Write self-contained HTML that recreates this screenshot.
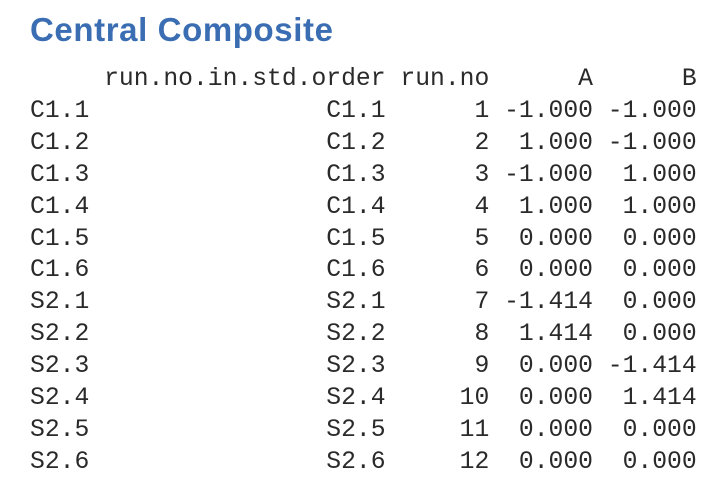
<!DOCTYPE html>
<html>
<head>
<meta charset="utf-8">
<style>
  html, body { margin: 0; padding: 0; background: #ffffff; }
  body { width: 727px; height: 496px; overflow: hidden; position: relative; }
  .title {
    position: absolute; left: 30px; top: 11px; margin: 0;
    font-family: "Liberation Sans", sans-serif; font-weight: bold;
    font-size: 33px; letter-spacing: 0.6px; color: #3b6db3;
  }
  pre {
    position: absolute; left: 30px; top: 64px; margin: 0;
    font-family: "Liberation Mono", monospace; font-size: 24.7px;
    line-height: 31.9px; color: #2a2a2a;
  }
</style>
</head>
<body>
<h1 class="title">Central Composite</h1>
<pre><span>     run.no.in.std.order run.no      A      B</span>
<span>C1.1                C1.1      1 -1.000 -1.000</span>
<span>C1.2                C1.2      2  1.000 -1.000</span>
<span>C1.3                C1.3      3 -1.000  1.000</span>
<span>C1.4                C1.4      4  1.000  1.000</span>
<span>C1.5                C1.5      5  0.000  0.000</span>
<span>C1.6                C1.6      6  0.000  0.000</span>
<span>S2.1                S2.1      7 -1.414  0.000</span>
<span>S2.2                S2.2      8  1.414  0.000</span>
<span>S2.3                S2.3      9  0.000 -1.414</span>
<span>S2.4                S2.4     10  0.000  1.414</span>
<span>S2.5                S2.5     11  0.000  0.000</span>
<span>S2.6                S2.6     12  0.000  0.000</span></pre>
</body>
</html>
